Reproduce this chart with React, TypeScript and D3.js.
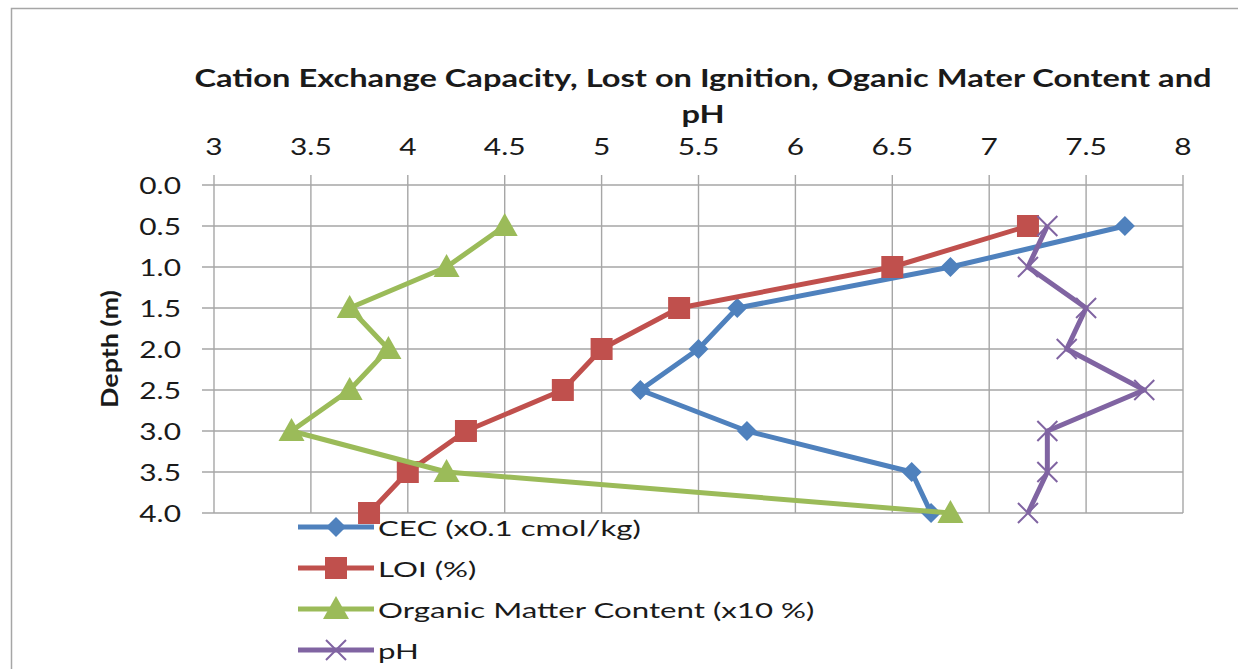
import React, { useEffect, useRef } from "react";
import * as d3 from "d3";

const depths = [0.5, 1.0, 1.5, 2.0, 2.5, 3.0, 3.5, 4.0];
const cec = [7.7, 6.8, 5.7, 5.5, 5.2, 5.75, 6.6, 6.7];
const loi = [7.2, 6.5, 5.4, 5.0, 4.8, 4.3, 4.0, 3.8];
const om = [4.5, 4.2, 3.7, 3.9, 3.7, 3.4, 4.2, 6.8];
const ph = [7.3, 7.2, 7.5, 7.4, 7.8, 7.3, 7.3, 7.2];
const xTicks = [3, 3.5, 4, 4.5, 5, 5.5, 6, 6.5, 7, 7.5, 8];
const yTicks = [0, 0.5, 1, 1.5, 2, 2.5, 3, 3.5, 4];
const seriesNames = ["CEC (x0.1 cmol/kg)", "LOI (%)", "Organic Matter Content (x10 %)", "pH"];
const titleLines = ["Cation Exchange Capacity, Lost on Ignition, Oganic Mater Content and", "pH"];
const yTitle = "Depth (m)";

const colors = ["#4F81BD", "#C0504D", "#9BBB59", "#8064A2"];
const markers = ["diamond", "square", "triangle", "x"];
const FONT = "Lato, 'Open Sans', sans-serif";
const TEXT = "#1a1a1a";

export default function App() {
  const ref = useRef<SVGSVGElement>(null);
  useEffect(() => {
    const svg = d3.select(ref.current);
    svg.selectAll("*").remove();
    const W = 1238, H = 669;
    const left = 214, right = 1183, top = 185, bottom = 513;
    const x = d3.scaleLinear().domain([3, 8]).range([left, right]);
    const y = d3.scaleLinear().domain([0, 4]).range([top, bottom]);

    const addText = (parent: any, tx: number, ty: number, str: string, size: number, sx: number,
      anchor = "start", weight = "normal", rot = 0) => {
      const g = parent.append("g").attr("transform", `translate(${tx},${ty}) rotate(${rot}) scale(${sx},1)`);
      g.append("text").attr("x", 0).attr("y", 0).attr("text-anchor", anchor).attr("font-family", FONT)
        .attr("font-size", size).attr("font-weight", weight).attr("fill", TEXT).text(str);
      return g;
    };

    svg.append("rect").attr("x", 0).attr("y", 0).attr("width", W).attr("height", H).attr("fill", "#fff");
    // outer frame
    svg.append("path").attr("d", `M11.5,${H} V8.5 H${W}`).attr("fill", "none").attr("stroke", "#a6a6a6").attr("stroke-width", 1.5);

    // title
    titleLines.forEach((l, i) => addText(svg, 703, 87 + i * 36, l, 24, 1.36, "middle", "bold"));

    // grid
    const g = svg.append("g");
    g.selectAll(".vg").data(xTicks).join("line")
      .attr("x1", d => x(d)).attr("x2", d => x(d)).attr("y1", top - 10).attr("y2", bottom)
      .attr("stroke", "#a6a6a6").attr("stroke-width", 1.4);
    g.selectAll(".hg").data(yTicks).join("line")
      .attr("y1", d => y(d)).attr("y2", d => y(d)).attr("x1", left - 12).attr("x2", right)
      .attr("stroke", "#a6a6a6").attr("stroke-width", 1.4);

    // tick labels
    xTicks.forEach(d => addText(svg, x(d), 155, String(d), 23, 1.3, "middle"));
    yTicks.forEach(d => addText(svg, 181, y(d) + 9, d3.format(".1f")(d), 23, 1.3, "end"));
    addText(svg, 118, (top + bottom) / 2, yTitle, 22, 1.22, "middle", "bold", -90);

    const drawMarker = (sel: any, kind: string, color: string, cx: number, cy: number) => {
      if (kind === "diamond") {
        sel.append("path").attr("d", `M${cx},${cy - 10} L${cx + 10},${cy} L${cx},${cy + 10} L${cx - 10},${cy} Z`).attr("fill", color);
      } else if (kind === "square") {
        sel.append("rect").attr("x", cx - 11).attr("y", cy - 11).attr("width", 22).attr("height", 22).attr("fill", color);
      } else if (kind === "triangle") {
        sel.append("path").attr("d", `M${cx},${cy - 13} L${cx + 13},${cy + 10} L${cx - 13},${cy + 10} Z`).attr("fill", color);
      } else {
        sel.append("path").attr("d", `M${cx - 10},${cy - 10} L${cx + 10},${cy + 10} M${cx - 10},${cy + 10} L${cx + 10},${cy - 10}`)
          .attr("stroke", color).attr("stroke-width", 2).attr("fill", "none");
      }
    };

    const all = [cec, loi, om, ph];
    all.forEach((vals, si) => {
      const data = vals.map((v, i) => [v, depths[i]] as [number, number]);
      const line = d3.line<[number, number]>().x(d => x(d[0])).y(d => y(d[1]));
      const sg = svg.append("g");
      sg.append("path").attr("d", line(data)).attr("fill", "none").attr("stroke", colors[si])
        .attr("stroke-width", 5).attr("stroke-linejoin", "round");
      data.forEach(d => drawMarker(sg, markers[si], colors[si], x(d[0]), y(d[1])));
    });

    // legend
    const lg = svg.append("g");
    seriesNames.forEach((name, i) => {
      const cy = 527 + i * 41;
      lg.append("line").attr("x1", 298).attr("x2", 374).attr("y1", cy).attr("y2", cy)
        .attr("stroke", colors[i]).attr("stroke-width", 5);
      drawMarker(lg, markers[i], colors[i], 336, cy);
      addText(lg, 378, cy + 9, name, 22, 1.42);
    });
  }, []);
  return <svg ref={ref} width={1238} height={669} style={{ position: "absolute", left: 0, top: 0 }} />;
}
